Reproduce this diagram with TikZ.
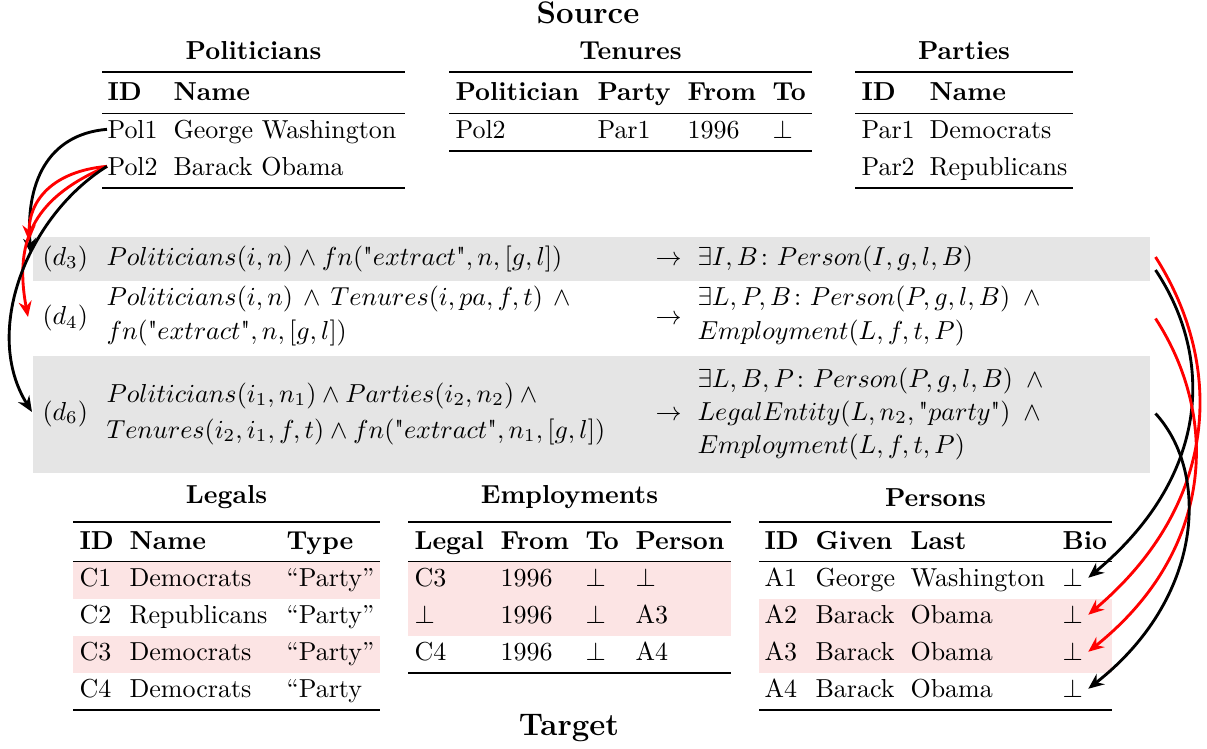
\documentclass[tikz,border=0pt]{standalone}
\usepackage{amsmath}
\usetikzlibrary{arrows.meta,calc,fit}

\definecolor{rowgray}{gray}{0.9}
\definecolor{rowpink}{RGB}{252,228,228}

\tikzset{
  cell/.style={anchor=base west, inner sep=0pt},
  headcellstyle/.style={cell, font=\bfseries},
  ttl/.style={anchor=base, inner sep=0pt, font=\bfseries},
  bigttl/.style={anchor=base, inner sep=0pt, font=\large\bfseries},
  heavyrule/.style={line width=0.8pt},
  lightrule/.style={line width=0.5pt},
  band/.style={fill=rowpink},
  rulebox/.style={inner sep=0pt, rectangle},
  arr/.style={-{Stealth[length=6pt,width=5pt]}, line width=1.1pt},
}

% one table cell, placed by the left end of its baseline
\newcommand{\bodycell}[4]{\node[cell] (#1) at (#2,#3) {#4};}
\newcommand{\headcell}[4]{\node[headcellstyle] (#1) at (#2,#3) {#4};}
% straight double quote inside formulas
\newcommand{\qq}{\mbox{\textquotedbl}}

\begin{document}
\begin{tikzpicture}[x=0.3846pt, y=-0.3846pt]
\useasboundingbox (0,0) rectangle (1207,749);

% ---------------- source tables ----------------
\node[bigttl] (src) at (588,23) {Source};

% Politicians
\node[ttl] (polT) at (253.5,59) {Politicians};
\draw[heavyrule] (102,72.3) -- (405,72.3);
\headcell{polh1}{107}{100.5}{ID}
\headcell{polh2}{173}{100.5}{Name}
\draw[lightrule] (102,113.2) -- (405,113.2);
\bodycell{pol11}{107}{138.2}{Pol1}
\bodycell{pol12}{173}{138.2}{George Washington}
\bodycell{pol21}{107}{175.2}{Pol2}
\bodycell{pol22}{173}{175.2}{Barack Obama}
\draw[heavyrule] (102,187.7) -- (405,187.7);

% Tenures
\node[ttl] (tenT) at (630.5,59) {Tenures};
\draw[heavyrule] (449,72.3) -- (812,72.3);
\headcell{tenh1}{455}{100.5}{Politician}
\headcell{tenh2}{597}{100.5}{Party}
\headcell{tenh3}{687}{100.5}{From}
\headcell{tenh4}{772}{100.5}{To}
\draw[lightrule] (449,113.2) -- (812,113.2);
\bodycell{ten11}{455}{138.2}{Pol2}
\bodycell{ten12}{597}{138.2}{Par1}
\bodycell{ten13}{687}{138.2}{1996}
\bodycell{ten14}{772}{138.2}{$\bot$}
\draw[heavyrule] (449,150.7) -- (812,150.7);

% Parties
\node[ttl] (parT) at (964,59) {Parties};
\draw[heavyrule] (855,72.3) -- (1073,72.3);
\headcell{parh1}{861}{100.5}{ID}
\headcell{parh2}{929}{100.5}{Name}
\draw[lightrule] (855,113.2) -- (1073,113.2);
\bodycell{par11}{861}{138.2}{Par1}
\bodycell{par12}{929}{138.2}{Democrats}
\bodycell{par21}{861}{175.2}{Par2}
\bodycell{par22}{929}{175.2}{Republicans}
\draw[heavyrule] (855,187.7) -- (1073,187.7);

% ---------------- dependencies ----------------
\node[rulebox, fill=rowgray, fit={(33,237) (1150,281)}] (d3row) {};
\node[rulebox, fit={(33,281) (1150,356)}] (d4row) {};
\node[rulebox, fill=rowgray, fit={(33,356) (1150,473)}] (d6row) {};

\node[cell] (d3lab) at (42,265) {$(d_3)$};
\node[cell] (d3L) at (106,265) {$Politicians(i,n) \land fn(\qq extract\qq, n, [g,l])$};
\node[cell] (d3A) at (655,265) {$\rightarrow$};
\node[cell] (d3R) at (697,265) {$\exists I, B\colon Person(I,g,l,B)$};

\node[cell] (d4lab) at (42,324.5) {$(d_4)$};
\node[cell] (d4L1) at (106,305) {$Politicians(i,n)\,\land\, Tenures(i,pa,f,t)\,\land{}$};
\node[cell] (d4L2) at (106,339.5) {$fn(\qq extract\qq, n, [g,l])$};
\node[cell] (d4A) at (655,324.5) {$\rightarrow$};
\node[cell] (d4R1) at (697,305) {$\exists L, P, B\colon Person(P,g,l,B)\;\land{}$};
\node[cell] (d4R2) at (697,339.5) {$Employment(L,f,t,P)$};

\node[cell] (d6lab) at (42,420) {$(d_6)$};
\node[cell] (d6L1) at (106,402) {$Politicians(i_1,n_1) \land Parties(i_2,n_2) \land{}$};
\node[cell] (d6L2) at (106,438) {$Tenures(i_2,i_1,f,t) \land fn(\qq extract\qq, n_1, [g,l])$};
\node[cell] (d6A) at (655,420) {$\rightarrow$};
\node[cell] (d6R1) at (697,387) {$\exists L, B, P\colon Person(P,g,l,B)\;\land{}$};
\node[cell] (d6R2) at (697,420) {$LegalEntity(L,n_2,\qq party\qq)\;\land{}$};
\node[cell] (d6R3) at (697,453) {$Employment(L,f,t,P)$};

% ---------------- target tables ----------------
% Legals
\node[ttl] (legT) at (226.5,503) {Legals};
\fill[band] (73,562.3) rectangle (380,599.3);
\fill[band] (73,636.3) rectangle (380,673.3);
\draw[heavyrule] (73,522.3) -- (380,522.3);
\headcell{legh1}{79}{549.3}{ID}
\headcell{legh2}{129}{549.3}{Name}
\headcell{legh3}{286}{549.3}{Type}
\draw[lightrule] (73,561.8) -- (380,561.8);
\bodycell{leg11}{79}{586.8}{C1}
\bodycell{leg12}{129}{586.8}{Democrats}
\bodycell{leg13}{286}{586.8}{“Party”}
\bodycell{leg21}{79}{623.8}{C2}
\bodycell{leg22}{129}{623.8}{Republicans}
\bodycell{leg23}{286}{623.8}{“Party”}
\bodycell{leg31}{79}{660.8}{C3}
\bodycell{leg32}{129}{660.8}{Democrats}
\bodycell{leg33}{286}{660.8}{“Party”}
\bodycell{leg41}{79}{697.8}{C4}
\bodycell{leg42}{129}{697.8}{Democrats}
\bodycell{leg43}{286}{697.8}{“Party}
\draw[heavyrule] (73,710.3) -- (380,710.3);

% Employments
\node[ttl] (empT) at (569.5,503) {Employments};
\fill[band] (408,562.3) rectangle (731,636.3);
\draw[heavyrule] (408,522.3) -- (731,522.3);
\headcell{emph1}{414}{549.3}{Legal}
\headcell{emph2}{500}{549.3}{From}
\headcell{emph3}{585}{549.3}{To}
\headcell{emph4}{635}{549.3}{Person}
\draw[lightrule] (408,561.8) -- (731,561.8);
\bodycell{emp11}{414}{586.8}{C3}
\bodycell{emp12}{500}{586.8}{1996}
\bodycell{emp13}{585}{586.8}{$\bot$}
\bodycell{emp14}{635}{586.8}{$\bot$}
\bodycell{emp21}{414}{623.8}{$\bot$}
\bodycell{emp22}{500}{623.8}{1996}
\bodycell{emp23}{585}{623.8}{$\bot$}
\bodycell{emp24}{635}{623.8}{A3}
\bodycell{emp31}{414}{660.8}{C4}
\bodycell{emp32}{500}{660.8}{1996}
\bodycell{emp33}{585}{660.8}{$\bot$}
\bodycell{emp34}{635}{660.8}{A4}
\draw[heavyrule] (408,673.3) -- (731,673.3);

% Persons
\node[ttl] (perT) at (935.5,506) {Persons};
\fill[band] (759,599.3) rectangle (1112,673.3);
\draw[heavyrule] (759,522.3) -- (1112,522.3);
\headcell{perh1}{764}{549.3}{ID}
\headcell{perh2}{815}{549.3}{Given}
\headcell{perh3}{910}{549.3}{Last}
\headcell{perh4}{1062}{549.3}{Bio}
\draw[lightrule] (759,561.8) -- (1112,561.8);
\bodycell{per11}{764}{586.8}{A1}
\bodycell{per12}{815}{586.8}{George}
\bodycell{per13}{910}{586.8}{Washington}
\bodycell{per14}{1062}{586.8}{$\bot$}
\bodycell{per21}{764}{623.8}{A2}
\bodycell{per22}{815}{623.8}{Barack}
\bodycell{per23}{910}{623.8}{Obama}
\bodycell{per24}{1062}{623.8}{$\bot$}
\bodycell{per31}{764}{660.8}{A3}
\bodycell{per32}{815}{660.8}{Barack}
\bodycell{per33}{910}{660.8}{Obama}
\bodycell{per34}{1062}{660.8}{$\bot$}
\bodycell{per41}{764}{697.8}{A4}
\bodycell{per42}{815}{697.8}{Barack}
\bodycell{per43}{910}{697.8}{Obama}
\bodycell{per44}{1062}{697.8}{$\bot$}
\draw[heavyrule] (759,710.3) -- (1112,710.3);

\node[bigttl] (tgt) at (569,735) {Target};

% ---------------- source tuples to dependencies ----------------
\draw[arr] (pol11.west) .. controls +(-60,5) and +(-6,-70) .. ($(d3lab.west)+(-11,-4.5)$);
\draw[arr, red] (pol21.west) .. controls +(-55,5) and +(0,-40) .. ($(d3lab.west)+(-13,-17.5)$);
\draw[arr, red] (pol21.west) .. controls +(-70,30) and +(-15,-80) .. ($(d4lab.west)+(-14,-1)$);
\draw[arr] (pol21.west) .. controls +(-80,50) and +(-50,-80) .. ($(d6lab.west)+(-10,-1.5)$);

% ---------------- dependencies to target tuples ----------------
\draw[arr] ($(d3row.east)+(5,11)$) .. controls +(60,90) and +(120,-100) .. ($(per14.east)+(5,0)$);
\draw[arr, red] ($(d3row.east)+(5,-2)$) .. controls +(70,110) and +(130,-110) .. ($(per24.east)+(5,0)$);
\draw[arr, red] ($(d4row.east)+(5,0)$) .. controls +(65,100) and +(125,-100) .. ($(per34.east)+(5,0)$);
\draw[arr] ($(d6row.east)+(5,-1)$) .. controls +(55,60) and +(115,-90) .. ($(per44.east)+(5,0)$);
\end{tikzpicture}
\end{document}
